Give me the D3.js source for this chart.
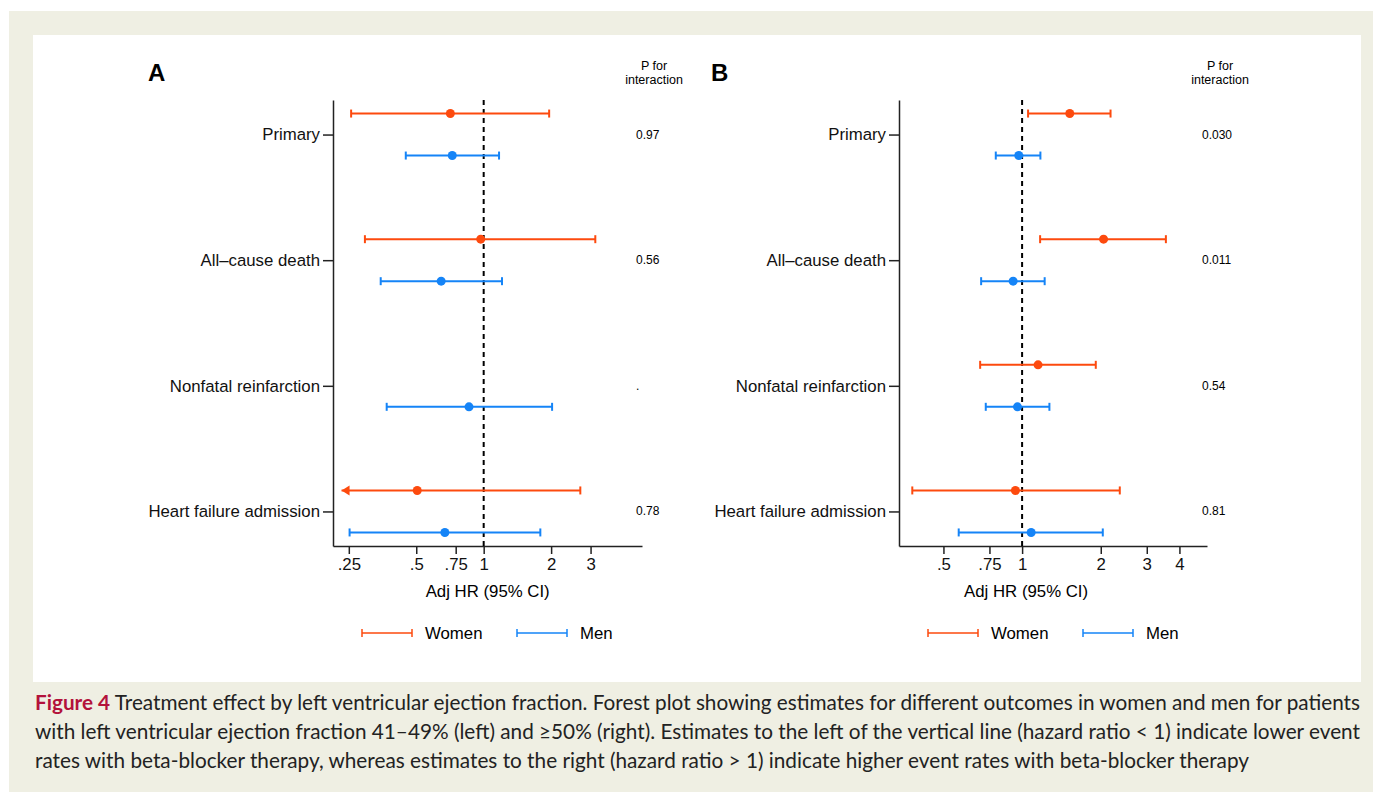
<!DOCTYPE html>
<html>
<head>
<meta charset="utf-8">
<script src="https://cdn.jsdelivr.net/npm/d3@7"></script>
<style>
  body { margin: 0; background: #fff; }
  svg { display: block; }
  .tick text { font-family: "Liberation Sans", Arial, sans-serif; font-size: 16.8px; fill: #111; }
</style>
</head>
<body>
<div id="chart"></div>
<script>
// Outcomes shown on the y axis
const outcomes = ["Primary", "All\u2013cause death", "Nonfatal reinfarction", "Heart failure admission"];

// Panel A: LVEF 41-49%
const womenA_hr = [0.71, 0.97, null, 0.505];
const womenA_lo = [0.256, 0.295, null, 0.2];
const womenA_hi = [1.96, 3.15, null, 2.70];
const menA_hr = [0.724, 0.646, 0.86, 0.671];
const menA_lo = [0.449, 0.347, 0.369, 0.252];
const menA_hi = [1.171, 1.207, 2.02, 1.79];
const pA = ["0.97", "0.56", ".", "0.78"];
const ticksA = [0.25, 0.5, 0.75, 1, 2, 3];
const tickLabelsA = [".25", ".5", ".75", "1", "2", "3"];

// Panel B: LVEF >=50%
const womenB_hr = [1.522, 2.05, 1.151, 0.943];
const womenB_lo = [1.054, 1.172, 0.691, 0.380];
const womenB_hi = [2.18, 3.55, 1.914, 2.365];
const menB_hr = [0.971, 0.924, 0.96, 1.083];
const menB_lo = [0.793, 0.697, 0.726, 0.572];
const menB_hi = [1.175, 1.22, 1.272, 2.036];
const pB = ["0.030", "0.011", "0.54", "0.81"];
const ticksB = [0.5, 0.75, 1, 2, 3, 4];
const tickLabelsB = [".5", ".75", "1", "2", "3", "4"];

const seriesNames = ["Women", "Men"];
const colors = { Women: "#fd4a0e", Men: "#1584f7" };

const W = 1373, H = 792;
const svg = d3.select("#chart").append("svg").attr("width", W).attr("height", H);

// beige frame and white figure area
svg.append("rect").attr("x", 9).attr("y", 11).attr("width", W - 9).attr("height", H - 11).attr("fill", "#efefe3");
svg.append("rect").attr("x", 33).attr("y", 35).attr("width", 1328).attr("height", 647).attr("fill", "#fff");

const font = '"Liberation Sans", Arial, sans-serif';

function errorBar(g, y0, x0, x1, color, arrowLeft) {
    g.append("line").attr("x1", x0).attr("x2", x1).attr("y1", y0).attr("y2", y0)
        .attr("stroke", color).attr("stroke-width", 2);
    if (arrowLeft) {
        g.append("path").attr("d", `M${x0},${y0} l8,-5 l0,10 z`).attr("fill", color);
    } else {
        g.append("line").attr("x1", x0).attr("x2", x0).attr("y1", y0 - 4).attr("y2", y0 + 4)
            .attr("stroke", color).attr("stroke-width", 2);
    }
    g.append("line").attr("x1", x1).attr("x2", x1).attr("y1", y0 - 4).attr("y2", y0 + 4)
        .attr("stroke", color).attr("stroke-width", 2);
}

function panel(cfg) {
    const g = svg.append("g");
    const x = d3.scaleLog().domain(cfg.domain).range(cfg.range);
    const y = d3.scalePoint().domain(outcomes).range([100, 546]).padding(0.275);
    const off = 21;

    // x axis
    g.append("g").attr("transform", "translate(0,546)")
        .call(d3.axisBottom(x).tickValues(cfg.ticks).tickFormat((d, i) => cfg.tickLabels[i])
            .tickSize(8).tickSizeOuter(0).tickPadding(4))
        .call(a => a.selectAll("path, line").attr("stroke", "#222").attr("stroke-width", 1.5));

    // y axis
    g.append("g").attr("transform", `translate(${cfg.range[0]},0)`)
        .call(d3.axisLeft(y).tickSize(10).tickSizeOuter(0).tickPadding(3))
        .call(a => a.selectAll("path, line").attr("stroke", "#222").attr("stroke-width", 1.5));

    // reference line at HR = 1
    g.append("line").attr("x1", x(1)).attr("x2", x(1)).attr("y1", 100).attr("y2", 546)
        .attr("stroke", "#000").attr("stroke-width", 2).attr("stroke-dasharray", "5,4");

    const series = [
        { name: "Women", hr: cfg.wHr, lo: cfg.wLo, hi: cfg.wHi, dy: -off },
        { name: "Men", hr: cfg.mHr, lo: cfg.mLo, hi: cfg.mHi, dy: off }
    ];
    series.forEach(s => {
        outcomes.forEach((o, i) => {
            if (s.hr[i] == null) return;
            const yy = y(o) + s.dy;
            const clipped = s.lo[i] < cfg.clipMin;
            const xl = x(clipped ? cfg.clipMin : s.lo[i]);
            errorBar(g, yy, xl, x(s.hi[i]), colors[s.name], clipped);
            g.append("circle").attr("cx", x(s.hr[i])).attr("cy", yy).attr("r", 4.5)
                .attr("fill", colors[s.name]);
        });
    });

    // P for interaction
    g.append("text").attr("x", cfg.pX + 18).attr("y", 70).attr("text-anchor", "middle")
        .attr("font-family", font).attr("font-size", 12.5).text("P for");
    g.append("text").attr("x", cfg.pX + 18).attr("y", 84).attr("text-anchor", "middle")
        .attr("font-family", font).attr("font-size", 12.5).text("interaction");
    outcomes.forEach((o, i) => {
        g.append("text").attr("x", cfg.pX).attr("y", y(o) + 4).attr("font-family", font)
            .attr("font-size", 12).text(cfg.p[i]);
    });

    // panel letter
    g.append("text").attr("x", cfg.letterX).attr("y", 81).attr("font-family", font)
        .attr("font-weight", "bold").attr("font-size", 24).text(cfg.letter);

    // x axis title
    g.append("text").attr("x", x(1) + 4).attr("y", 597).attr("text-anchor", "middle")
        .attr("font-family", font).attr("font-size", 16.8).text("Adj HR (95% CI)");

    // legend
    seriesNames.forEach((n, i) => {
        const lx = cfg.legendX + i * 155;
        g.append("line").attr("x1", lx).attr("x2", lx + 50).attr("y1", 633).attr("y2", 633)
            .attr("stroke", colors[n]).attr("stroke-width", 1.5);
        [lx, lx + 50].forEach(cx => g.append("line").attr("x1", cx).attr("x2", cx)
            .attr("y1", 629).attr("y2", 637).attr("stroke", colors[n]).attr("stroke-width", 1.5));
        g.append("text").attr("x", lx + 63).attr("y", 639).attr("font-family", font)
            .attr("font-size", 16.8).text(n);
    });
}

panel({
    letter: "A", letterX: 148, domain: [0.2125, 5.09], range: [333, 642], clipMin: 0.232,
    ticks: ticksA, tickLabels: tickLabelsA,
    wHr: womenA_hr, wLo: womenA_lo, wHi: womenA_hi, mHr: menA_hr, mLo: menA_lo, mHi: menA_hi,
    p: pA, pX: 636, legendX: 362
});
panel({
    letter: "B", letterX: 711, domain: [0.338, 5.1], range: [899, 1207], clipMin: 0.2,
    ticks: ticksB, tickLabels: tickLabelsB,
    wHr: womenB_hr, wLo: womenB_lo, wHi: womenB_hi, mHr: menB_hr, mLo: menB_lo, mHi: menB_hi,
    p: pB, pX: 1202, legendX: 928
});

// caption
const capFont = 'Lato, "Open Sans", sans-serif';
const cap1 = svg.append("text").attr("x", 35).attr("y", 710).attr("font-family", capFont)
    .attr("font-size", 20.5).attr("fill", "#222").attr("textLength", 1325).attr("lengthAdjust", "spacingAndGlyphs");
cap1.append("tspan").attr("font-weight", "bold").attr("fill", "#b3123b").text("Figure 4");
cap1.append("tspan").text(" Treatment effect by left ventricular ejection fraction. Forest plot showing estimates for different outcomes in women and men for patients");
svg.append("text").attr("x", 35).attr("y", 739).attr("font-family", capFont)
    .attr("font-size", 20.5).attr("fill", "#222").attr("textLength", 1325).attr("lengthAdjust", "spacingAndGlyphs")
    .text("with left ventricular ejection fraction 41\u201349% (left) and \u226550% (right). Estimates to the left of the vertical line (hazard ratio < 1) indicate lower event");
svg.append("text").attr("x", 35).attr("y", 768).attr("font-family", capFont)
    .attr("font-size", 20.5).attr("fill", "#222").attr("textLength", 1214).attr("lengthAdjust", "spacingAndGlyphs")
    .text("rates with beta-blocker therapy, whereas estimates to the right (hazard ratio > 1) indicate higher event rates with beta-blocker therapy");
</script>
</body>
</html>
